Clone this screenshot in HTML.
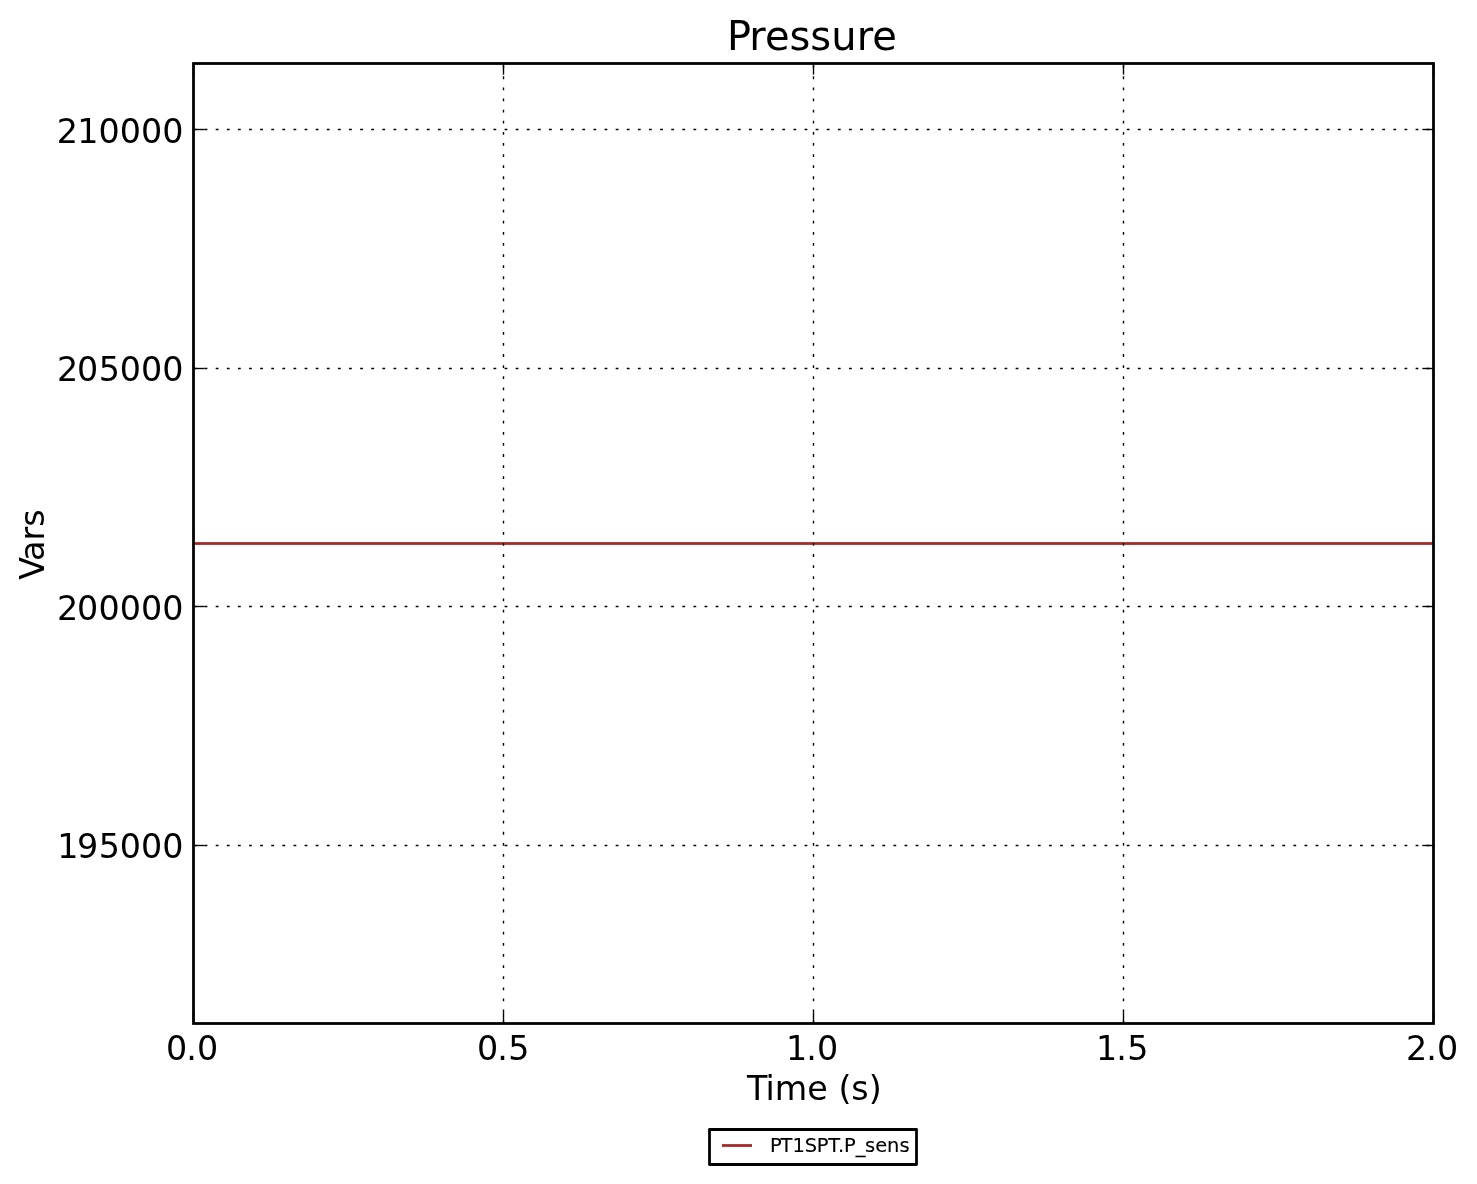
<!DOCTYPE html>
<html lang="en"><head><meta charset="utf-8"><title>Pressure</title>
<style>
html,body{margin:0;padding:0;background:#ffffff;width:1477px;height:1184px;overflow:hidden}
svg{display:block}
text{font-family:"DejaVu Sans","Bitstream Vera Sans","Liberation Sans",sans-serif;fill:#000;font-kerning:none;white-space:pre}
.tk{font-size:33.33px}
.grid{stroke:#000;stroke-width:1.39;stroke-dasharray:2.78 8.33;fill:none}
.tick{stroke:#000;stroke-width:1.39;fill:none}
</style></head><body>
<svg width="1477" height="1184" viewBox="0 0 1477 1184">
<rect x="0" y="0" width="1477" height="1184" fill="#ffffff"/>

<rect x="193.5" y="542.11" width="1240.0" height="2.78" fill="#a52a2a"/>
<g class="grid">
<line x1="503.5" y1="1023.5" x2="503.5" y2="63.5"/>
<line x1="813.5" y1="1023.5" x2="813.5" y2="63.5"/>
<line x1="1123.5" y1="1023.5" x2="1123.5" y2="63.5"/>
<line x1="193.5" y1="129.5" x2="1433.5" y2="129.5"/>
<line x1="193.5" y1="368.5" x2="1433.5" y2="368.5"/>
<line x1="193.5" y1="606.5" x2="1433.5" y2="606.5"/>
<line x1="193.5" y1="845.5" x2="1433.5" y2="845.5"/>
</g>
<g class="tick">
<line x1="193.5" y1="1023.5" x2="193.5" y2="1012.39"/>
<line x1="193.5" y1="63.5" x2="193.5" y2="74.61"/>
<line x1="503.5" y1="1023.5" x2="503.5" y2="1012.39"/>
<line x1="503.5" y1="63.5" x2="503.5" y2="74.61"/>
<line x1="813.5" y1="1023.5" x2="813.5" y2="1012.39"/>
<line x1="813.5" y1="63.5" x2="813.5" y2="74.61"/>
<line x1="1123.5" y1="1023.5" x2="1123.5" y2="1012.39"/>
<line x1="1123.5" y1="63.5" x2="1123.5" y2="74.61"/>
<line x1="1433.5" y1="1023.5" x2="1433.5" y2="1012.39"/>
<line x1="1433.5" y1="63.5" x2="1433.5" y2="74.61"/>
<line x1="193.5" y1="129.5" x2="204.61" y2="129.5"/>
<line x1="1433.5" y1="129.5" x2="1422.39" y2="129.5"/>
<line x1="193.5" y1="368.5" x2="204.61" y2="368.5"/>
<line x1="1433.5" y1="368.5" x2="1422.39" y2="368.5"/>
<line x1="193.5" y1="606.5" x2="204.61" y2="606.5"/>
<line x1="1433.5" y1="606.5" x2="1422.39" y2="606.5"/>
<line x1="193.5" y1="845.5" x2="204.61" y2="845.5"/>
<line x1="1433.5" y1="845.5" x2="1422.39" y2="845.5"/>
</g>
<rect x="193.5" y="63.5" width="1240.0" height="960.0" fill="none" stroke="#000" stroke-width="2.78" stroke-linejoin="miter"/>
<rect x="709.5" y="1129.5" width="207" height="35" fill="#fff" stroke="#000" stroke-width="2.78" stroke-linejoin="round"/>
<rect x="721.9" y="1144.11" width="30.1" height="2.78" fill="#a52a2a"/>
<text class="tk" x="165.99 186.2 196.99" y="1060">0.0</text>
<text class="tk" x="476.99 497.3 508.14" y="1060">0.5</text>
<text class="tk" x="785.99 806.2 816.99" y="1060">1.0</text>
<text class="tk" x="1095.99 1116.2 1127.14" y="1060">1.5</text>
<text class="tk" x="1405.89 1426.25 1437.04" y="1060">2.0</text>
<text class="tk" x="56.77 77.22 98.42 119.78 141.08 162.28" y="143.1">210000</text>
<text class="tk" x="56.97 77.12 98.67 119.78 141.08 162.28" y="381.1">205000</text>
<text class="tk" x="56.97 77.12 98.42 119.78 141.08 162.28" y="620.1">200000</text>
<text class="tk" x="57.17 77.07 98.67 119.78 141.08 162.28" y="858.1">195000</text>
<text font-size="40" x="726.99 749.3 764.98 789.39 810.22 831.26 856.72 872.28" y="50">Pressure</text>
<text class="tk" x="746.93 765.56 774.71 807.28 827.75 838.39 851.29 868.8" y="1099.8">Time (s)</text>
<text class="tk" x="-34.45 -15.65 4.77 18.48" y="0" transform="translate(44.1 545.3) rotate(-90)">Vars</text>
<text font-size="19.44" x="769.9 780.54 792.41 804.77 816.85 828.32 837.88 843.97 855.63 865.1 875.18 886.98 899.51" y="1151.9 1151.9 1151.9 1151.9 1151.9 1151.9 1151.9 1151.9 1152.6 1151.9 1151.9 1151.9 1151.9" stroke="#000" stroke-width="0.12">PT1SPT.P<tspan stroke="#000" stroke-width="0.2">_</tspan>sens</text>
</svg>
</body></html>
